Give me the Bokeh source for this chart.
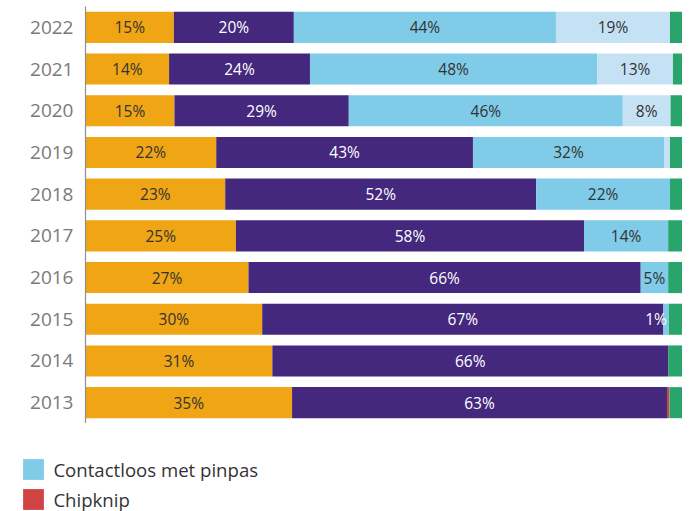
from bokeh.plotting import figure
from bokeh.models import ColumnDataSource, FactorRange, Range1d, Legend, LegendItem
from bokeh.layouts import column
from bokeh.core.properties import value
from bokeh.embed import file_html
from bokeh.resources import INLINE

years = ["2013", "2014", "2015", "2016", "2017", "2018", "2019", "2020", "2021", "2022"]

contant =      [34.6, 31.3, 29.6, 27.3, 25.2, 23.4, 21.9, 14.9, 14.0, 14.8]
pinpas =       [62.8, 66.3, 67.2, 65.7, 58.3, 52.1, 43.0, 29.2, 23.6, 20.1]
contactloos =  [0.0, 0.0, 0.9, 4.6, 14.1, 22.4, 32.0, 45.9, 48.1, 43.9]
mobiel =       [0.0, 0.0, 0.0, 0.0, 0.0, 0.0, 1.0, 8.0, 12.7, 19.1]
chipknip =     [0.4, 0.0, 0.0, 0.0, 0.0, 0.0, 0.0, 0.0, 0.0, 0.0]
overig =       [2.2, 2.4, 2.3, 2.4, 2.4, 2.1, 2.1, 2.0, 1.6, 2.1]

contant_labels =     ["35%", "31%", "30%", "27%", "25%", "23%", "22%", "15%", "14%", "15%"]
pinpas_labels =      ["63%", "66%", "67%", "66%", "58%", "52%", "43%", "29%", "24%", "20%"]
contactloos_labels = ["", "", "1%", "5%", "14%", "22%", "32%", "46%", "48%", "44%"]
mobiel_labels =      ["", "", "", "", "", "", "", "8%", "13%", "19%"]

legend_names = ["Contactloos met pinpas", "Chipknip"]

series = [
    ("Contant", contant, "#EFA514", contant_labels, "#333333"),
    ("Pinpas", pinpas, "#43287D", pinpas_labels, "#FFFFFF"),
    ("Contactloos met pinpas", contactloos, "#7FCBE8", contactloos_labels, "#333333"),
    ("Mobiel", mobiel, "#C4E2F3", mobiel_labels, "#333333"),
    ("Chipknip", chipknip, "#D04444", None, None),
    ("Overig", overig, "#29A56B", None, None),
]
colors = {s[0]: s[2] for s in series}

FONT = "Open Sans"

yr = FactorRange(factors=years, range_padding=0)
xr = Range1d(0, 100)

p = figure(width=682, height=423, output_backend="svg", toolbar_location=None,
           y_range=yr, x_range=xr, x_axis_location=None,
           min_border_left=85, min_border_right=0, min_border_top=6, min_border_bottom=0)
p.outline_line_color = None
p.grid.visible = False
p.frame_align = False

sources = {}
left = [0.0] * len(years)
for name, vals, color, labels, tcolor in series:
    right = [l + v for l, v in zip(left, vals)]
    mid = [(l + r) / 2 for l, r in zip(left, right)]
    src = ColumnDataSource(dict(year=years, left=list(left), right=right, mid=mid))
    sources[name] = src
    p.hbar(y="year", left="left", right="right", height=0.745, source=src,
           fill_color=color, line_color=None)
    if labels:
        main = [lab if v >= 3 else "" for lab, v in zip(labels, vals)]
        small = [lab if (v < 3 and lab) else "" for lab, v in zip(labels, vals)]
        src2 = ColumnDataSource(dict(year=years, mid=mid, label=main))
        p.text(x="mid", y="year", text="label", source=src2, text_align="center",
               text_baseline="middle", text_color=tcolor,
               text_font=value(FONT), text_font_size="15.5px")
        if any(small):
            src3 = ColumnDataSource(dict(year=years, mid=mid, label=small))
            p.text(x="mid", y="year", text="label", source=src3, text_align="center",
                   text_baseline="middle", text_color="#FFFFFF", x_offset=-10,
                   text_font=value(FONT), text_font_size="15.5px")
    left = right

ax = p.yaxis[0]
ax.axis_line_color = "#8f8f8f"
ax.axis_line_width = 1.2
ax.major_tick_line_color = None
ax.minor_tick_line_color = None
ax.major_tick_out = 0
ax.major_label_standoff = 12
ax.major_label_text_font = FONT
ax.major_label_text_font_size = "19px"
ax.major_label_text_color = "#7a7a7a"

# legend panel (own small figure, frame spans the full width)
lg = figure(width=682, height=88, output_backend="svg", toolbar_location=None,
            x_range=xr, y_range=yr,
            x_axis_location=None, y_axis_location=None,
            min_border_left=0, min_border_right=0, min_border_top=0, min_border_bottom=0)
lg.outline_line_color = None
lg.grid.visible = False
lg.frame_align = False
items = []
for nm in legend_names:
    r = lg.hbar(y="year", left="left", right="right", height=0, source=sources[nm],
                fill_color=colors[nm], line_color=None)
    items.append(LegendItem(label=nm, renderers=[r]))
legend = Legend(items=items, location=(20.4, -1.4), orientation="vertical")
legend.border_line_color = None
legend.background_fill_alpha = 0
legend.padding = 0
legend.margin = 0
legend.spacing = 4
legend.glyph_width = 26
legend.glyph_height = 26
legend.label_height = 26
legend.label_standoff = 7
legend.label_text_font = FONT
legend.label_text_font_size = "18.6px"
legend.label_text_color = "#333333"
legend.label_text_baseline = "middle"
lg.add_layout(legend, "center")

layout = column(p, lg, spacing=0)
open("out.html", "w").write(file_html(layout, INLINE))
